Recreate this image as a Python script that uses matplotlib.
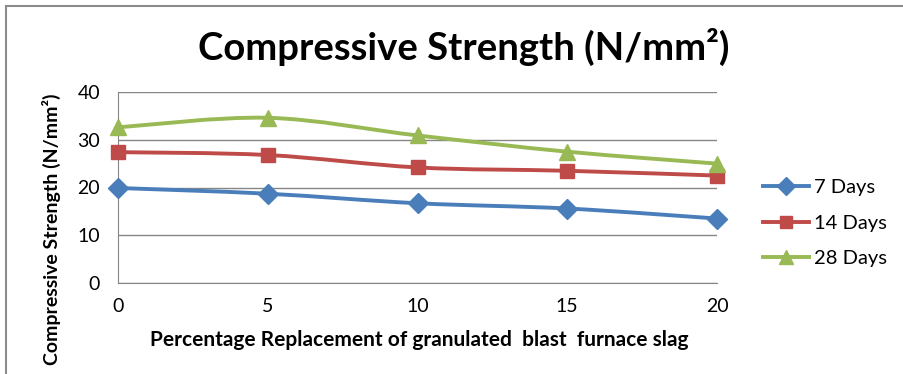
"""
Compressive strength vs. slag replacement, 7 / 14 / 28 day curves.
"""

import numpy as np
import matplotlib
matplotlib.use("Agg")
import matplotlib.pyplot as plt
from matplotlib.path import Path
from matplotlib.patches import PathPatch
from matplotlib.lines import Line2D

# Data
replacement = [0, 5, 10, 15, 20]
days_7 = [19.9, 18.7, 16.7, 15.6, 13.5]
days_14 = [27.4, 26.8, 24.2, 23.5, 22.5]
days_28 = [32.6, 34.6, 30.9, 27.5, 25.0]
series_labels = ["7 Days", "14 Days", "28 Days"]
y_ticks = [0, 10, 20, 30, 40]


def smooth_path(xs, ys):
    """Bezier path through the points, like a spreadsheet 'smoothed line'"""
    pts = np.column_stack([xs, ys]).astype(float)
    n = len(pts)
    verts = [pts[0]]
    codes = [Path.MOVETO]
    for i in range(n - 1):
        p0 = pts[i - 1] if i > 0 else pts[i]
        p1 = pts[i]
        p2 = pts[i + 1]
        p3 = pts[i + 2] if i + 2 < n else pts[i + 1]
        c1 = p1 + (p2 - p0) / 6.0
        c2 = p2 - (p3 - p1) / 6.0
        verts += [c1, c2, p2]
        codes += [Path.CURVE4] * 3
    return Path(verts, codes)


def plot_data():
    plt.rcParams['font.family'] = ['Lato', 'DejaVu Sans']

    fig = plt.figure(figsize=(9.04, 3.74), dpi=100)
    ax = fig.add_axes([118 / 904, 1 - 283 / 374, 599 / 904, 191 / 374])

    # Outer chart frame (cut off at right and bottom)
    fig.add_artist(Line2D([6 / 904, 1.0], [1 - 6 / 374, 1 - 6 / 374],
                          transform=fig.transFigure, color='#8c8c8c', lw=1.5))
    fig.add_artist(Line2D([6 / 904, 6 / 904], [0.0, 1 - 6 / 374],
                          transform=fig.transFigure, color='#8c8c8c', lw=1.5))

    styles = [
        ('#4a7ebb', 'D', 10),
        ('#be4b48', 's', 10),
        ('#98b954', '^', 11),
    ]
    handles = []
    for ys, label, (col, mk, ms) in zip([days_7, days_14, days_28], series_labels, styles):
        ax.add_patch(PathPatch(smooth_path(replacement, ys), facecolor='none',
                               edgecolor=col, lw=2.8, zorder=3))
        ax.plot(replacement, ys, linestyle='none', marker=mk, ms=ms, color=col,
                markeredgecolor=col, zorder=4, clip_on=False)
        handles.append(Line2D([], [], color=col, lw=2.8, marker=mk, ms=ms - 1,
                              markeredgecolor=col))

    ax.set_xlim(0, 20)
    ax.set_ylim(0, 40)
    ax.set_xticks(replacement)
    ax.set_yticks(y_ticks)
    ax.yaxis.grid(True, color='#868686', lw=1)
    ax.set_axisbelow(True)
    for side in ['top', 'right']:
        ax.spines[side].set_visible(False)
    for side in ['left', 'bottom']:
        ax.spines[side].set_color('#868686')
    ax.tick_params(length=0, labelsize=14, colors='black')
    ax.tick_params(axis='x', pad=11)
    ax.tick_params(axis='y', pad=13)

    fig.text(0.513, 1 - 47 / 374, "Compressive Strength (N/mm²)", ha='center', va='center',
             fontsize=27.5, fontweight='bold')
    fig.text(419 / 904, 1 - 340 / 374,
             "Percentage Replacement of granulated  blast  furnace slag",
             ha='center', va='center', fontsize=15, fontweight='bold')
    fig.text(51 / 904, 1 - 229 / 374, "Compressive Strength (N/mm²)", ha='center', va='center',
             rotation=90, fontsize=14, fontweight='bold')

    fig.legend(handles, series_labels, loc='center left',
               bbox_to_anchor=(763 / 904, 1 - 223 / 374), frameon=False,
               borderaxespad=0, borderpad=0,
               fontsize=14.5, handlelength=2.3, labelspacing=0.9, handletextpad=0.25)

    plt.savefig('out.png', dpi=100)


if __name__ == "__main__":
    plot_data()
